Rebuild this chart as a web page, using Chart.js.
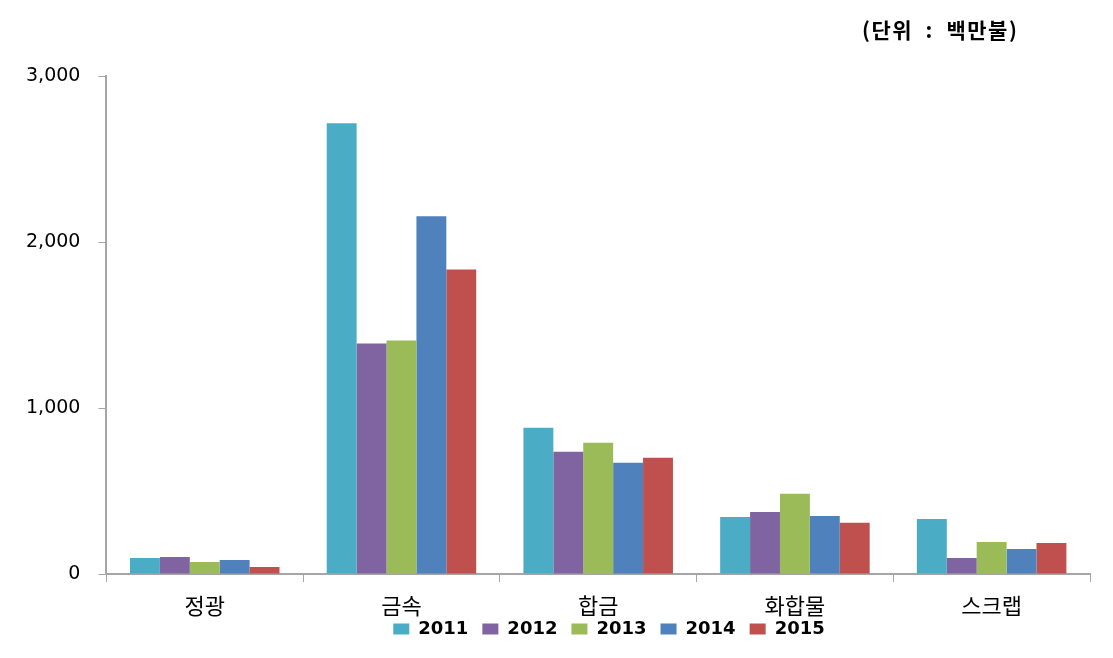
<!DOCTYPE html>
<html>
<head>
<meta charset="utf-8">
<script src="https://cdn.jsdelivr.net/npm/chart.js@4/dist/chart.umd.min.js"></script>
<style>
  body { margin: 0; background: #fff; }
  #wrap { position: relative; width: 1113px; height: 658px; }
  #unit { position: absolute; left: 862px; top: 14px; font: bold 21px "Noto Sans CJK KR", sans-serif; color: #000; white-space: pre; letter-spacing: 1.5px; }
</style>
</head>
<body>
<div id="wrap">
  <div id="unit">(단위  :  백만불)</div>
  <canvas id="grafico" width="1113" height="658"></canvas>
</div>
<script>
const categorias = ['정광', '금속', '합금', '화합물', '스크랩'];
const anos = ['2011', '2012', '2013', '2014', '2015'];
const cores = ['#4BACC6', '#8064A2', '#9BBB59', '#4F81BD', '#C0504D'];

const v2011 = [97, 2716, 881, 344, 332];
const v2012 = [103, 1388, 736, 374, 97];
const v2013 = [72, 1406, 791, 483, 193];
const v2014 = [85, 2155, 670, 350, 151];
const v2015 = [42, 1835, 700, 308, 187];
const series = [v2011, v2012, v2013, v2014, v2015];

// sobe a legenda (colando nos rótulos) e a centraliza sob a área do gráfico
const moverLegenda = {
    id: 'moverLegenda',
    afterLayout(chart) {
        const lg = chart.legend;
        if (!lg) return;
        lg.top -= 24; lg.bottom -= 24;
        lg.left += 60; lg.right += 60;
    }
};

const ctx = document.getElementById('grafico').getContext('2d');
new Chart(ctx, {
    type: 'bar',
    data: {
        labels: categorias,
        datasets: anos.map((ano, i) => ({
            label: ano,
            data: series[i],
            backgroundColor: cores[i],
            barPercentage: 1,
            categoryPercentage: 0.76
        }))
    },
    options: {
        responsive: false,
        animation: false,
        layout: { padding: { left: 8, right: 23, top: 76, bottom: -14 } },
        plugins: {
            legend: {
                position: 'bottom',
                labels: {
                    boxWidth: 16, boxHeight: 11, padding: 14,
                    color: '#000',
                    font: { family: 'DejaVu Sans', size: 18, weight: 'bold' }
                }
            },
            tooltip: { enabled: false }
        },
        scales: {
            x: {
                grid: { offset: true, drawOnChartArea: false, tickLength: 8, color: '#A6A6A6' },
                border: { color: '#A6A6A6', width: 2 },
                ticks: { color: '#000', padding: 13, font: { family: 'Noto Sans CJK KR', size: 22, lineHeight: 1.0 } }
            },
            y: {
                min: 0, max: 3000,
                grid: { drawOnChartArea: false, tickLength: 8, color: '#A6A6A6' },
                border: { color: '#A6A6A6', width: 2 },
                ticks: {
                    stepSize: 1000, color: '#000', padding: 18,
                    font: { family: 'DejaVu Sans', size: 19 },
                    callback: v => v.toLocaleString('en-US')
                }
            }
        }
    },
    plugins: [moverLegenda]
});
</script>
</body>
</html>
